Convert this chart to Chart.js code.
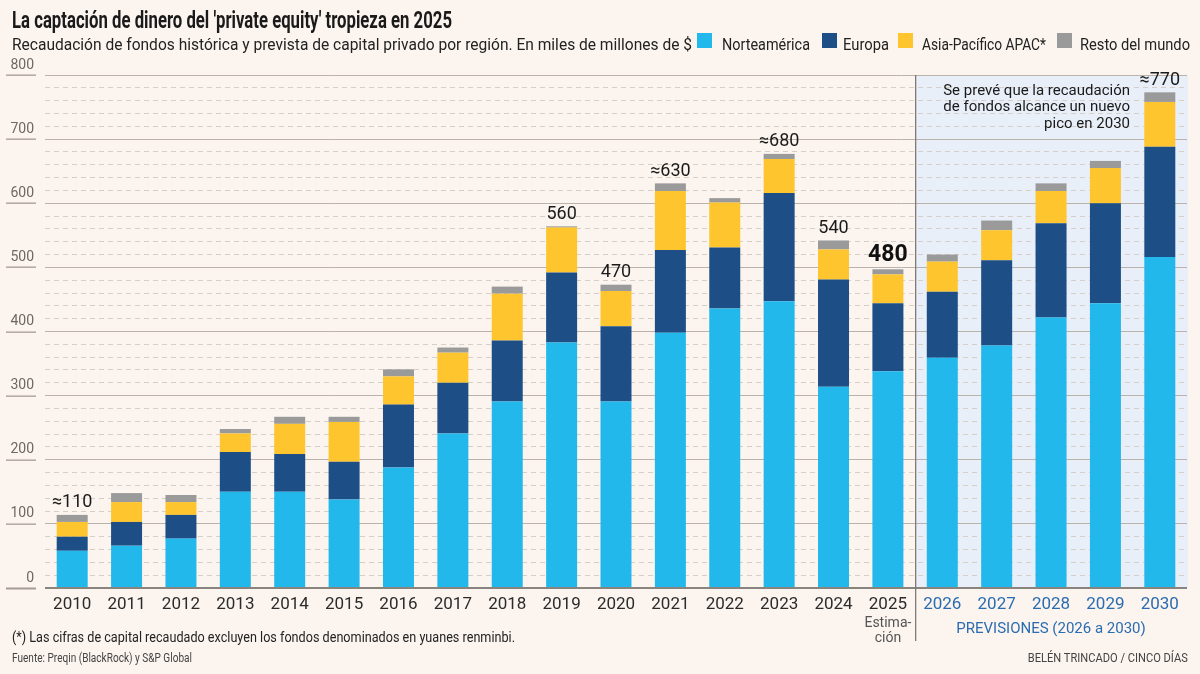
<!DOCTYPE html>
<html lang="es">
<head>
<meta charset="utf-8">
<title>Private equity 2025</title>
<script src="https://cdn.jsdelivr.net/npm/chart.js@4.4.1/dist/chart.umd.min.js"></script>
<style>
  html, body { margin: 0; padding: 0; }
  body { width: 1200px; height: 674px; background: #fcf5ef; position: relative; overflow: hidden; font-family: Roboto, "Noto Sans", sans-serif; color: #1a1a1a; }
  #grafico { position: absolute; left: 0; top: 0; }
  .txt { position: absolute; white-space: nowrap; display: inline-block; transform-origin: left center; line-height: 1; }
  .der { transform-origin: right center; }
  .cuadro { position: absolute; width: 15px; height: 15px; }
</style>
</head>
<body>
<canvas id="grafico" width="1200" height="674"></canvas>

<span class="txt" id="titulo" data-w="440" style="left:12px; top:9px; font-size:23px; font-weight:700;">La captación de dinero del 'private equity' tropieza en 2025</span>
<span class="txt" id="subtitulo" data-w="680" style="left:12px; top:37px; font-size:16px; color:#222;">Recaudación de fondos histórica y prevista de capital privado por región. En miles de millones de $</span>

<div class="cuadro" style="left:697px; top:33px; background:#22b8ec;"></div>
<span class="txt" data-w="88" style="left:722px; top:37px; font-size:16px; color:#222;">Norteamérica</span>
<div class="cuadro" style="left:822px; top:33px; background:#1d4f86;"></div>
<span class="txt" data-w="46" style="left:843px; top:37px; font-size:16px; color:#222;">Europa</span>
<div class="cuadro" style="left:898px; top:33px; background:#fec52e;"></div>
<span class="txt" data-w="124" style="left:922px; top:37px; font-size:16px; color:#222;">Asia-Pacífico APAC*</span>
<div class="cuadro" style="left:1057px; top:33px; background:#9a9a9a;"></div>
<span class="txt" data-w="110" style="left:1080px; top:37px; font-size:16px; color:#222;">Resto del mundo</span>

<span class="txt" data-w="503" style="left:12px; top:630px; font-size:14px; color:#222;">(*) Las cifras de capital recaudado excluyen los fondos denominados en yuanes renminbi.</span>
<span class="txt" data-w="180" style="left:12px; top:652px; font-size:12px; color:#444;">Fuente: Preqin (BlackRock) y S&amp;P Global</span>
<span class="txt der" data-w="160" data-right="1188" style="top:652px; font-size:12px; color:#444;">BELÉN TRINCADO / CINCO DÍAS</span>

<script>
// Datos (miles de millones de $)
const anios = ['2010', '2011', '2012', '2013', '2014', '2015', '2016', '2017', '2018', '2019',
    '2020', '2021', '2022', '2023', '2024', '2025', '2026', '2027', '2028', '2029', '2030'];
const norteamerica = [58, 66, 77, 150, 150, 138, 188, 241, 291, 383, 291, 398, 436, 447, 314, 338, 359, 378, 422, 444, 516];
const europa = [22, 37, 37, 62, 59, 59, 98, 79, 95, 109, 117, 129, 95, 169, 167, 106, 103, 133, 147, 156, 172];
const apac = [23, 31, 20, 29, 47, 62, 44, 47, 73, 70, 55, 92, 70, 53, 47, 45, 47, 47, 50, 55, 70];
const resto = [11, 14, 11, 7, 11, 8, 11, 8, 11, 2, 10, 12, 7, 8, 14, 8, 11, 15, 12, 11, 15];
// Etiquetas de total sobre algunas barras
const etiquetasTotal = ['≈110', '', '', '', '', '', '', '', '', '560', '470', '≈630', '', '≈680', '540', '480', '', '', '', '', '≈770'];
const primerAnioPrevision = 16; // índice de 2026

// Ajusta el ancho de los textos HTML al del original
document.querySelectorAll('.txt[data-w]').forEach(function (el) {
    const w = el.getBoundingClientRect().width;
    const escala = parseFloat(el.dataset.w) / w;
    if (el.dataset.right) {
        el.style.left = (parseFloat(el.dataset.right) - w) + 'px';
    }
    el.style.transform = 'scaleX(' + escala + ')';
});

const fondoPrevision = {
    id: 'fondoPrevision',
    beforeDraw(chart) {
        const { ctx, chartArea, scales } = chart;
        const xSep = (scales.x.getPixelForValue(primerAnioPrevision - 1) + scales.x.getPixelForValue(primerAnioPrevision)) / 2;
        ctx.save();
        ctx.fillStyle = '#e8eff8';
        ctx.fillRect(xSep, chartArea.top, chartArea.right + 1 - xSep, chartArea.bottom - chartArea.top);
        ctx.restore();
    },
    afterDraw(chart) {
        const { ctx, chartArea, scales } = chart;
        const x = scales.x, y = scales.y;
        const xSep = (x.getPixelForValue(primerAnioPrevision - 1) + x.getPixelForValue(primerAnioPrevision)) / 2;
        ctx.save();
        // línea separadora de previsiones
        ctx.fillStyle = '#7f7a76';
        ctx.fillRect(Math.round(xSep), chartArea.top, 1.3, 641 - chartArea.top);

        // marcas cortas bajo las etiquetas del eje Y
        ctx.fillStyle = '#a39b94';
        for (let v = 0; v <= 800; v += 100) {
            const py = Math.round(y.getPixelForValue(v));
            ctx.fillRect(6, py - 0.5, 30, v === 0 ? 2 : 1.3);
        }

        // totales encima de las barras
        ctx.textAlign = 'center';
        ctx.textBaseline = 'bottom';
        etiquetasTotal.forEach(function (txt, i) {
            if (!txt) return;
            const total = norteamerica[i] + europa[i] + apac[i] + resto[i];
            const px = x.getPixelForValue(i);
            const py = y.getPixelForValue(total) - 3;
            if (txt === '480') {
                ctx.font = 'bold 23px Roboto';
                ctx.fillStyle = '#111';
            } else {
                ctx.font = '18px Roboto';
                ctx.fillStyle = '#1a1a1a';
            }
            ctx.fillText(txt, px, py);
        });

        // texto de la estimación y previsiones
        ctx.fillStyle = '#555';
        ctx.font = '14px Roboto';
        ctx.textBaseline = 'middle';
        const x2025 = x.getPixelForValue(primerAnioPrevision - 1);
        ctx.fillText('Estima-', x2025, 623);
        ctx.fillText('ción', x2025, 638);

        ctx.fillStyle = '#2a6cb0';
        ctx.font = '15px Roboto';
        const xPrev = (x.getPixelForValue(primerAnioPrevision) + x.getPixelForValue(anios.length - 1)) / 2;
        ctx.fillText('PREVISIONES (2026 a 2030)', xPrev, 629);

        // nota explicativa
        ctx.fillStyle = '#1a1a1a';
        ctx.font = '15px Roboto';
        ctx.textAlign = 'right';
        ctx.fillText('Se prevé que la recaudación', 1130, 91);
        ctx.fillText('de fondos alcance un nuevo', 1130, 107);
        ctx.fillText('pico en 2030', 1130, 124);
        ctx.restore();
    }
};

const ctx = document.getElementById('grafico').getContext('2d');
const grafico = new Chart(ctx, {
    type: 'bar',
    data: {
        labels: anios,
        datasets: [
            { label: 'Norteamérica', data: norteamerica, backgroundColor: '#22b8ec' },
            { label: 'Europa', data: europa, backgroundColor: '#1d4f86' },
            { label: 'Asia-Pacífico APAC*', data: apac, backgroundColor: '#fec52e' },
            { label: 'Resto del mundo', data: resto, backgroundColor: '#9a9a9a' }
        ]
    },
    options: {
        responsive: false,
        animation: false,
        devicePixelRatio: 1,
        layout: { padding: { top: 75, right: 13, left: 0, bottom: 0 } },
        datasets: {
            bar: { barPercentage: 0.57, categoryPercentage: 1, borderWidth: 0 }
        },
        plugins: {
            legend: { display: false },
            tooltip: { enabled: false }
        },
        scales: {
            x: {
                stacked: true,
                grid: { display: false, drawTicks: false },
                border: { display: false },
                ticks: {
                    padding: 7,
                    font: { family: 'Roboto', size: 17 },
                    color: function (c) { return c.index >= primerAnioPrevision ? '#2a6cb0' : '#2b2b2b'; }
                },
                afterFit: function (s) { s.height = 86; }
            },
            y: {
                stacked: true,
                min: 0,
                max: 800,
                ticks: {
                    stepSize: 20,
                    autoSkip: false,
                    padding: 11,
                    labelOffset: -10,
                    font: { family: 'Roboto', size: 14 },
                    color: '#6e6862',
                    callback: function (v) { return v % 100 === 0 ? v : ''; }
                },
                grid: {
                    drawTicks: false,
                    color: function (c) {
                        if (!c.tick) return '#c9c2bb';
                        if (c.tick.value === 0) return '#8a847e';
                        return c.tick.value % 100 === 0 ? '#bbb3ab' : '#d6cfc8';
                    },
                    lineWidth: function (c) {
                        if (c.tick && c.tick.value === 0) return 2;
                        return 1;
                    }
                },
                border: {
                    display: false,
                    dash: function (c) {
                        if (!c.tick) return [];
                        return c.tick.value % 100 === 0 ? [] : [5, 4];
                    }
                },
                afterFit: function (s) { s.width = 45; }
            }
        }
    },
    plugins: [fondoPrevision]
});
</script>
</body>
</html>
